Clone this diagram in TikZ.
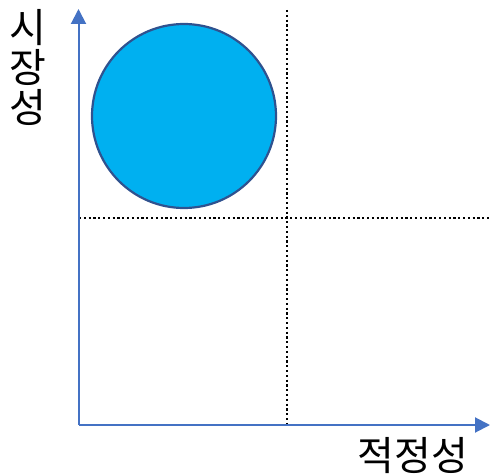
\documentclass[tikz,border=0pt]{standalone}
\usepackage{fontspec}
\newfontfamily\kr{Noto Sans CJK KR}
\usetikzlibrary{arrows.meta}
\definecolor{axisblue}{HTML}{4472C4}
\definecolor{fillblue}{HTML}{00B0F0}
\definecolor{edgeblue}{HTML}{2F528F}
\tikzset{
  axis/.style={draw=axisblue, line width=2pt, -{Triangle[length=15pt,width=15pt]}},
  grid/.style={draw=black, line width=2.2pt, dash pattern=on 2.2pt off 2.6pt},
  lbl/.style={font=\kr\fontsize{40}{42}\selectfont, inner sep=0pt, text=black},
}
\begin{document}
\begin{tikzpicture}[x=1pt,y=-1pt]
\useasboundingbox (0,0) rectangle (490,476);
\coordinate (o) at (78.5,425);
\coordinate (ytop) at (78.5,9);
\coordinate (xend) at (490,425);
\coordinate (vt) at (287,10);
\coordinate (vb) at (287,426);
\coordinate (hl) at (79,218);
\coordinate (hr) at (490,218);
\draw[grid] (vt) -- (vb);
\draw[grid] (hl) -- (hr);
\draw[axis] (o) -- (ytop);
\draw[axis] (o) -- (xend);
\node[circle, minimum size=184pt, inner sep=0pt, fill=fillblue, draw=edgeblue, line width=2.2pt] (c) at (184,116) {};
\node[lbl] (s1) at (28,28) {시};
\node[lbl] (s2) at (28,67) {장};
\node[lbl] (s3) at (28,107) {성};
\node[lbl] (xl) at (413,456) {적정성};
\end{tikzpicture}
\end{document}
